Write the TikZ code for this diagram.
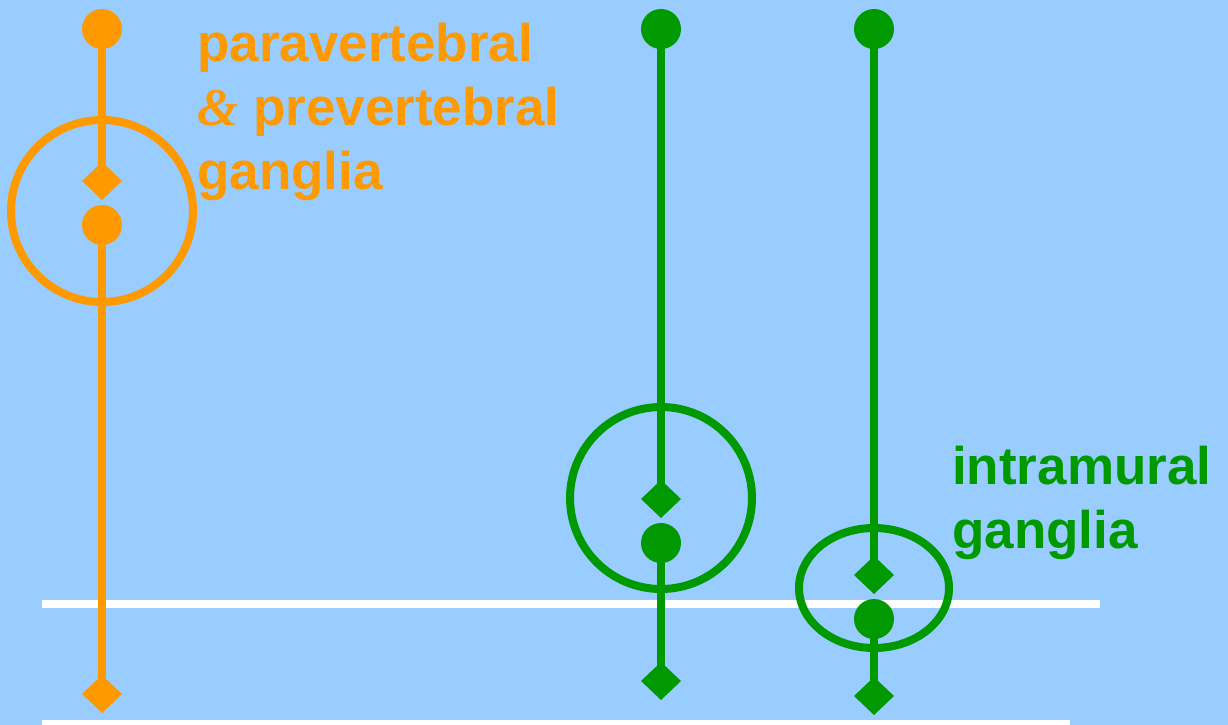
\documentclass[tikz,border=0pt]{standalone}
\usepackage{fontspec}
\setmainfont{Liberation Sans}
\newfontfamily\ampfont{Liberation Serif}
\usetikzlibrary{shapes.geometric}
\definecolor{bgblue}{HTML}{99CCFF}
\definecolor{orn}{HTML}{FF9900}
\definecolor{grn}{HTML}{009900}
\pgfdeclarelayer{bglayer}
\pgfdeclarelayer{midlayer}
\pgfsetlayers{bglayer,midlayer,main}
\tikzset{
 soma/.style={circle, fill=#1, minimum size=40pt, inner sep=0pt, outer sep=0pt},
 term/.style={diamond, fill=#1, minimum width=40pt, minimum height=38pt, inner sep=0pt, outer sep=0pt},
 gang/.style={ellipse, draw=#1, line width=8pt, inner sep=0pt},
 axon/.style={draw=#1, line width=8pt},
 whiteline/.style={draw=white, line width=8pt},
 lbl/.style={text=#1, anchor=base west, inner sep=0pt, font=\fontsize{53}{64}\selectfont\bfseries}
}
\begin{document}
\begin{tikzpicture}[x=1pt,y=-1pt]
\useasboundingbox (0,0) rectangle (1228,725);
\begin{pgfonlayer}{bglayer}
\fill[bgblue] (0,0) rectangle (1228,725);
\draw[whiteline] (42,604) -- (1100,604);
\draw[whiteline] (42,724) -- (1070,724);
\end{pgfonlayer}

% orange neuron
\node[gang=orn, minimum width=182pt, minimum height=182pt] (gA) at (102,211) {};
\node[soma=orn] (tA) at (102,29) {};
\node[term=orn] (dA) at (102,181) {};
\node[soma=orn] (sA) at (102,225) {};
\node[term=orn] (eA) at (102,694) {};

% green neuron 1
\node[gang=grn, minimum width=182pt, minimum height=182pt] (gB) at (661,498) {};
\node[soma=grn] (tB) at (661,29) {};
\node[term=grn] (dB) at (661,499) {};
\node[soma=grn] (sB) at (661,543) {};
\node[term=grn] (eB) at (661,681) {};

% green neuron 2
\node[gang=grn, minimum width=150pt, minimum height=120pt] (gC) at (874,588) {};
\node[soma=grn] (tC) at (874,29) {};
\node[term=grn] (dC) at (874,575) {};
\node[soma=grn] (sC) at (874,619) {};
\node[term=grn] (eC) at (874,696) {};

\begin{pgfonlayer}{midlayer}
\draw[axon=orn] (tA.center) -- (dA.center);
\draw[axon=orn] (sA.center) -- (eA.center);
\draw[axon=grn] (tB.center) -- (dB.center);
\draw[axon=grn] (sB.center) -- (eB.center);
\draw[axon=grn] (tC.center) -- (dC.center);
\draw[axon=grn] (sC.center) -- (eC.center);
\end{pgfonlayer}

% labels
\node[lbl=orn] (pA1) at (197,61) {paravertebral};
\node[lbl=orn] (pA2) at (197,125) {{\ampfont\itshape\&} prevertebral};
\node[lbl=orn] (pA3) at (197,189) {ganglia};
\node[lbl=grn] (pC1) at (952,484) {intramural};
\node[lbl=grn] (pC2) at (952,548) {ganglia};
\end{tikzpicture}
\end{document}
